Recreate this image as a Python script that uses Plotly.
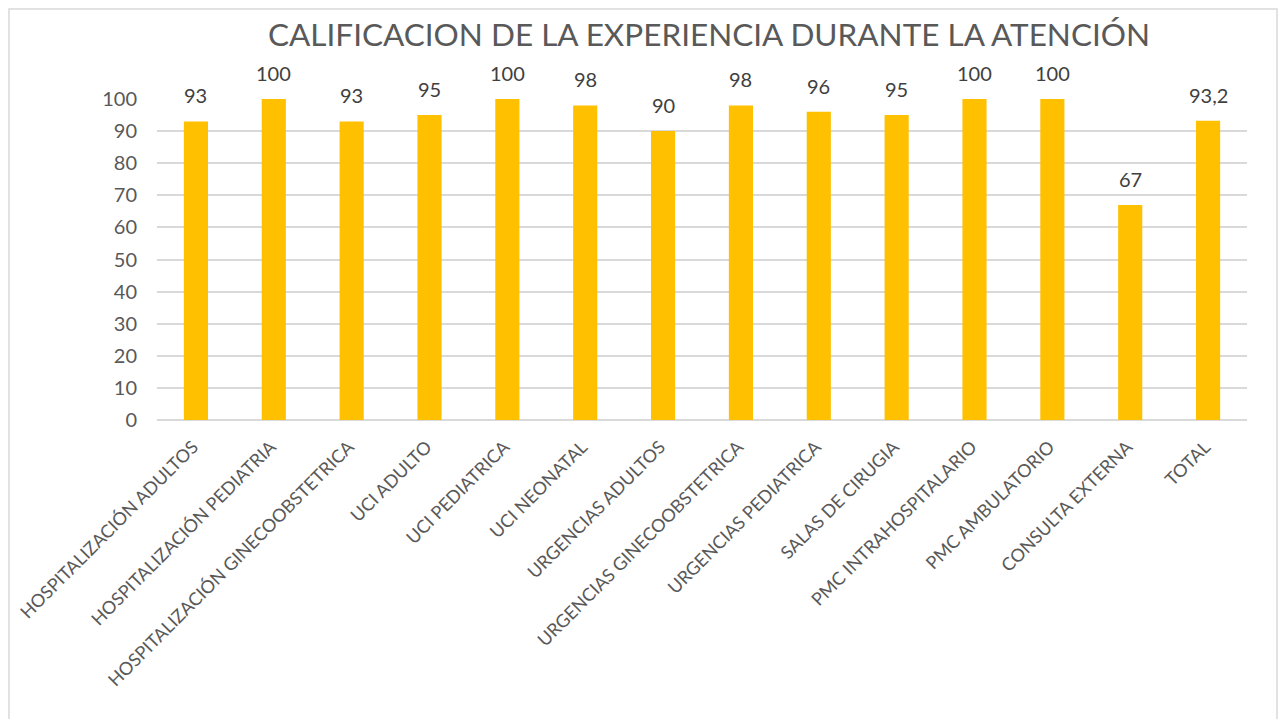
import plotly.graph_objects as go

categories = [
    "HOSPITALIZACIÓN ADULTOS", "HOSPITALIZACIÓN PEDIATRIA", "HOSPITALIZACIÓN GINECOOBSTETRICA",
    "UCI ADULTO", "UCI PEDIATRICA", "UCI NEONATAL", "URGENCIAS ADULTOS",
    "URGENCIAS GINECOOBSTETRICA", "URGENCIAS PEDIATRICA", "SALAS DE CIRUGIA",
    "PMC INTRAHOSPITALARIO", "PMC AMBULATORIO", "CONSULTA EXTERNA", "TOTAL",
]
values = [93, 100, 93, 95, 100, 98, 90, 98, 96, 95, 100, 100, 67, 93.2]
labels = [("%g" % v).replace(".", ",") for v in values]

OFF = 8  # default body margin of the page
W, H = 1286 - 2 * OFF, 727 - 2 * OFF
L, R, T, B = 157 - OFF, 1247 - OFF, 99 - OFF, 420 - OFF
FONT = "Lato, Open Sans, sans-serif"

fig = go.Figure(go.Bar(
    x=categories, y=values,
    marker=dict(color="#FFC000", line=dict(width=0)),
    cliponaxis=False,
))

for c, v, t in zip(categories, values, labels):
    fig.add_annotation(x=c, y=v, text=t, showarrow=False, yanchor="bottom", yshift=12,
                       font=dict(size=20, color="#404040", family=FONT))

ph = B - T
pw = R - L
fig.add_shape(type="rect", xref="paper", yref="paper",
              x0=(1 - L) / pw, x1=(W - 1 - L) / pw,
              y0=(B - (H + 20)) / ph, y1=(B - 1) / ph,
              line=dict(color="#D9D9D9", width=1.5), fillcolor="rgba(0,0,0,0)", layer="below")

fig.update_layout(
    width=W, height=H,
    margin=dict(l=L, r=W - R, t=T, b=H - B, pad=0, autoexpand=False),
    paper_bgcolor="white", plot_bgcolor="white",
    bargap=0.69,
    showlegend=False,
    title=dict(text="CALIFICACION DE LA EXPERIENCIA DURANTE LA ATENCIÓN",
               x=((268 + 1150) / 2 - OFF) / W, xanchor="center", y=1 - (35 - OFF) / H, yanchor="middle",
               font=dict(size=31.5, color="#595959", family=FONT)),
    font=dict(family=FONT, color="#595959"),
)
fig.update_yaxes(range=[0, 100], dtick=10, showgrid=True, gridcolor="#D9D9D9", gridwidth=1.5,
                 zeroline=True, zerolinecolor="#D9D9D9", zerolinewidth=1.5, automargin=False,
                 showline=False, ticks="", ticklabelstandoff=19,
                 tickfont=dict(size=20, color="#595959", family=FONT))
fig.update_xaxes(tickangle=-45, showline=False, ticks="", showgrid=False, automargin=False,
                 ticklabelstandoff=12, ticklabelshift=-3,
                 tickfont=dict(size=18, color="#595959", family=FONT))

fig.write_html("out.html")
